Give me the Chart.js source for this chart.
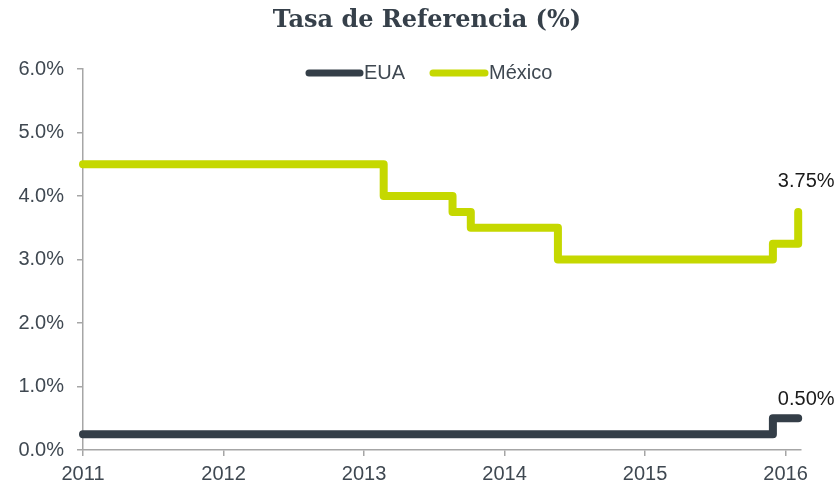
<!DOCTYPE html>
<html>
<head>
<meta charset="utf-8">
<script src="https://cdn.jsdelivr.net/npm/chart.js@4"></script>
<style>
  html, body { margin: 0; padding: 0; background: #fff; }
  #wrap { width: 838px; height: 485px; }
</style>
</head>
<body>
<div id="wrap"><canvas id="grafica"></canvas></div>
<script>
// datos (fecha decimal del cambio, tasa en %)
var fechasMexico = [2011, 2013.14, 2013.63, 2013.76, 2014.38, 2015.91, 2016.09];
var tasaMexico   = [4.5,  4.0,     3.75,    3.5,     3.0,     3.25,    3.75];
var fechasEUA = [2011, 2015.91, 2016.09];
var tasaEUA   = [0.25, 0.5,     0.5];
var etiquetasFinales = ["3.75%", "0.50%"];
var anios = [2011, 2012, 2013, 2014, 2015, 2016];
var titulo = 'Tasa de Referencia (%)';

var colorEUA = '#343e48';
var colorMex = '#c5d800';
var gris = '#a6a6a6';
var textoGris = '#3f4851';
var fuente = "'Liberation Sans', Arial, sans-serif";

function puntos(xs, ys) {
  var res = [];
  for (var i = 0; i < xs.length; i++) {
    res.push({ x: xs[i], y: ys[i] });
  }
  return res;
}

// titulo, leyenda y etiquetas dibujadas a mano
var extras = {
  id: 'extras',
  afterDatasetsDraw: function (chart) {
    var ctx = chart.ctx;
    ctx.save();

    ctx.font = "bold 24px 'DejaVu Serif', serif";
    ctx.fillStyle = '#36404a';
    ctx.textAlign = 'center';
    ctx.textBaseline = 'middle';
    ctx.fillText(titulo, 427, 21);

    ctx.font = '20px ' + fuente;
    ctx.lineCap = 'round';
    ctx.lineWidth = 7;
    var items = [
      { txt: 'EUA', color: colorEUA, x0: 309, x1: 360 },
      { txt: 'México', color: colorMex, x0: 433, x1: 485 }
    ];
    items.forEach(function (it) {
      ctx.strokeStyle = it.color;
      ctx.beginPath();
      ctx.moveTo(it.x0, 73);
      ctx.lineTo(it.x1, 73);
      ctx.stroke();
      ctx.fillStyle = textoGris;
      ctx.textAlign = 'left';
      ctx.fillText(it.txt, it.x1 + 4, 73);
    });

    // valores finales
    ctx.fillStyle = '#1a1a1a';
    ctx.textAlign = 'center';
    var offs = [30, 19];
    chart.data.datasets.forEach(function (ds, i) {
      var meta = chart.getDatasetMeta(i);
      var p = meta.data[meta.data.length - 1];
      ctx.fillText(etiquetasFinales[i], p.x + 8, p.y - offs[i]);
    });
    ctx.restore();
  }
};

new Chart(document.getElementById('grafica'), {
  type: 'line',
  data: {
    datasets: [
      {
        label: 'México',
        data: puntos(fechasMexico, tasaMexico),
        borderColor: colorMex,
        backgroundColor: colorMex,
        borderWidth: 8,
        stepped: true,
        pointRadius: 0,
        borderCapStyle: 'round',
        borderJoinStyle: 'round',
        clip: false
      },
      {
        label: 'EUA',
        data: puntos(fechasEUA, tasaEUA),
        borderColor: colorEUA,
        backgroundColor: colorEUA,
        borderWidth: 8,
        stepped: true,
        pointRadius: 0,
        borderCapStyle: 'round',
        borderJoinStyle: 'round',
        clip: false
      }
    ]
  },
  options: {
    responsive: true,
    maintainAspectRatio: false,
    animation: false,
    layout: { padding: { left: 0, right: 37, top: 69, bottom: 0 } },
    plugins: {
      legend: { display: false },
      tooltip: { enabled: false },
      title: { display: false }
    },
    scales: {
      x: {
        type: 'linear',
        min: 2011,
        max: 2016.11,
        afterFit: function (s) { s.height = 35; },
        afterBuildTicks: function (s) {
          s.ticks = anios.map(function (a) { return { value: a }; });
        },
        border: { display: true, color: gris, width: 1.5 },
        grid: { drawOnChartArea: false, drawTicks: true, tickLength: 6, color: gris, lineWidth: 1.5 },
        ticks: {
          color: textoGris,
          font: { family: fuente, size: 20 },
          padding: 6,
          maxRotation: 0,
          callback: function (v) { return String(v); }
        }
      },
      y: {
        min: 0,
        max: 6,
        afterFit: function (s) { s.width = 83; },
        border: { display: true, color: gris, width: 1.5 },
        grid: { drawOnChartArea: false, drawTicks: true, tickLength: 6, color: gris, lineWidth: 1.5 },
        ticks: {
          stepSize: 1,
          color: textoGris,
          font: { family: fuente, size: 20 },
          padding: 13,
          callback: function (v) { return v.toFixed(1) + '%'; }
        }
      }
    }
  },
  plugins: [extras]
});
</script>
</body>
</html>
